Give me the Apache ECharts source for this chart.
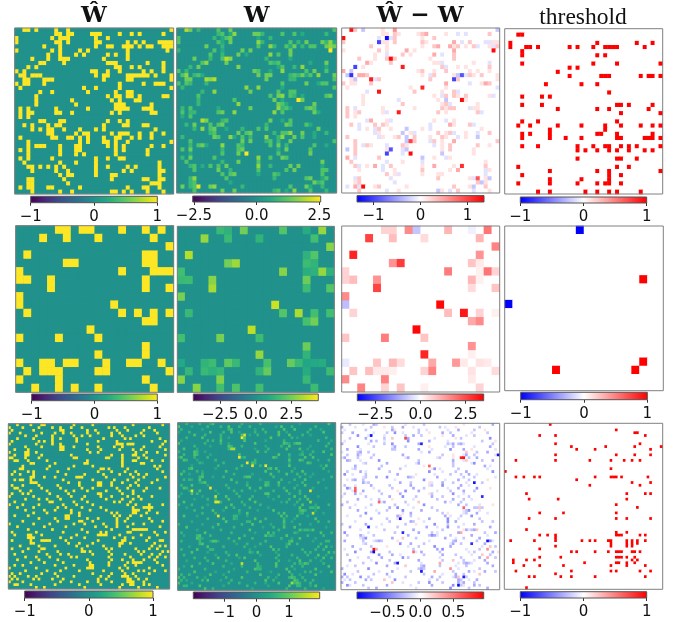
<!DOCTYPE html>
<html><head><meta charset="utf-8">
<script src="https://cdn.jsdelivr.net/npm/echarts@6/dist/echarts.min.js"></script>
<style>html,body{margin:0;padding:0;background:#fff}#c{width:673px;height:622px;filter:blur(.3px)}</style>
</head><body><div id="c"></div>
<script>
// ---- row 1 (40 x 40): columns that are switched on, per matrix row
const hatCols1=[[2,3,5,10,13,39],[10,11,13,14,19,20,21,26,29,31,37],[0,9,11,12,13,20,23],[0,10,11,13,20,21,28,30,32,36,37,38,39],[7,11,20,23,24,27,28,29,31,33,34,37,38,39],[0,9,11,16,18,28,38],[8,11,15,17,23,25,28],[4,8,11,12,13,22,28],[6,7,12,23,24,25,33,37],[3,5,25,26,29,31,37],[0,2,19,20,23,26,32,34,37],[1,2,4,5,6,20,22,23,28,29,30,31,32,33,35,39],[2,3,7,8,9,22,28,29,39],[0,2,3,7,26,32,35,36,37],[1,17,20,26,39],[6,9,18,25,28,29],[5,23,25,26,28,29,31,37,38],[5,14,24,26,30,31],[5,15,25,26,27,34],[1,3,10,18,25,26,27,28,32,33,34],[1,3,4,10,11,14,24,26,34,35],[1,3],[6,7,11,12,23,26,28],[2,4,8,10,11,22,27,28,32,33],[4,6,8,9,12,16,20,22,35],[8,9,15,17,18,24,26,27,28,31,34,37],[1,9,10,13,14,16,18,22,25,26,29,31,34],[3,16,18,22,23,25,28,39],[3,5,6,7,11,15,16,23,25,27,34,37],[1,3,11,15,16,25,27,33],[3,11,15,17,25,33],[1,3,9,20,23,26,27],[2,11,15,20,36],[3,4,6,8,10,12,20,23,28,30,36],[4,10,13,20,27,29,36,37],[11,13,14,20,24,25,36],[3,4,12,24,32,33,36,37],[3,4,13,34,35,36],[1,3,4,8,9,16,28,32,33,36],[4,11,14,24,25,27,29,33,37]];
const wLev1=["753454","34265534423","4324523","4425634355362","53463425344565","3425553","4352645","5347632","46543425","3524362","4354264542","4634255534352465","55477533","443345244","36524","36544","445643245","345245","365425","3425634245","43345364523","24","74345243","35445354425","364523445","345453446523","3546243636542","4553435","345264345342","45345254","245345","3546454","4354534","342445635524","45344544","4452434","36434524","342534","5345634523","455342643"];
const wPeaks1=[[5,38,2.7],[17,30,2.6],[30,17,2.7],[38,5,2.4],[7,12,2.0],[12,7,1.9],[12,8,1.7],[22,7,1.5],[14,20,1.7],[15,9,1.7],[20,14,1.7],[9,15,1.6]];
const diffLev1=["82b14b","11211231aa2","1a2a212","2112213a2aa11","2112331212a1a2","12131311","1a213a2","212a212","31211a1a","b12a112","3b1212111","b23321a21b1a2121","1b8a22121b","21123a1321","1121a","a2212a","11a22121a","1a1b21","1212a1","2a112122a1","2121a1212a","21","a31a1a1","2a221a312a","a1a21b1a1","a1b1a212a1a2","2a112b2121a1b1","2b2a21321a","2a21a21a1221","b21ab1212","21a2b1122","3a2b1a121","2a1a1b2","2a13a2131b2","1a1213a1b2","21a111a","a2a21a1bb2","12a2b1","a3a12121b2","2a1b1a2a1"];
const diffPeaks1=[[2,0,1.3],[2,11,-1.3],[3,9,-1.0],[7,12,1.3],[9,3,-1.0],[9,15,1.2],[11,2,-1.1],[12,7,1.2],[12,28,-1.0],[11,30,-0.9],[14,20,1.15],[15,9,1.25],[20,14,1.2],[17,30,1.3],[5,38,1.3],[27,17,1.0],[30,17,1.3],[30,11,-1.0],[29,12,-0.9],[33,30,1.1],[38,5,1.3],[36,34,0.9],[0,2,1.25]];
const thrCols1=[[],[3,4],[],[1,23,33,37],[1,5,6,8,16,18,22,25,26,27,28,35],[4],[4,23,25],[],[4,22,28,39],[16,18],[13],[16,24,25,26,34,36,37,39],[],[10,19,23],[],[26],[4,9,11],[],[4,9,28,29,31,37],[13,23,26,36],[29,39],[],[4,8,28],[3,6,13,19,25,29,34,37,39],[11,25],[4,6,11,23,24,28,37],[4,11,15,19,28,29,35,36,37,39],[],[4,8,18,22,25,26,29,31,33,39],[18,20,23,26,28,31,35,37],[],[18,28,29,33],[],[3,28,31],[11,23,26,39],[4,26,29],[11,19,26],[3,11,18,23,25,26,29],[],[8,11,20,23,26,28,34]];

// ---- row 2 (20 x 20)
const hatCols2=[[5,6,8,9,13,16,18],[3,6,10,17],[19],[1,16,17],[6,7,16,17],[0,13,17,18,19],[0,1,4,16],[4,16,19],[0],[0,12],[1,13,15,17,19],[16,17],[9],[0,5,10],[16],[10,16],[0,3,4,6,7,11,14,15,18],[1,3,4,5,10,11,19],[0,5,16],[2,5,7,10,17]];
const wCols2=[[5,6,8,13,16,18],[3,6,10,17],[19],[1,16,17],[6,7,16,17],[0,13,16,17,18,19],[0,1,4,16],[4,16,19],[0],[12],[1,13,15,17,19],[16,17],[9],[0,5,10],[16],[10,16],[0,3,4,6,7,11,14,15,16,17,18],[1,3,4,5,10,11,16,19],[0,5,16],[2,5,7,10,17]];
const wVals2=[[1.5,1.2,2.5,2,1,3],[3,1.5,1.3,1.7],[2.8],[3.4,1.2,2],[2.5,3.1,1.6,1.3],[1.7,2.8,1.1,1.2,3,1.2],[1.5,1.6,2.8,2.4],[3.2,1.6,2],[2.6],[3.7],[1.5,2,3.3,1.7,1.7],[1.8,2.5],[3.5],[1.7,2.6,1.6],[2.4],[3,1.3],[0.9,1.3,1.6,2.2,1.5,1.8,2.3,1.5,0.8,0.9,1],[1.4,1.5,1.2,1.4,1.3,2.3,1,1.6],[2.8,2.7,1.5],[2.8,1.7,1.9,1.7,1.6]];
const diffCols2=[[5,6,8,9,13,16,18],[3,6,10,17],[19],[1,17],[6,7,16,17],[0,13,17,18,19],[0,1,4,16,17],[4,16,19],[0],[0,12],[1,13,15,17,19],[16,17],[9],[0,5,10],[16],[10,16],[0,4,6,7,11,14,15,17,18],[1,3,4,5,6,10,11,16,19],[0,5,16],[2,5,7,10,17]];
const diffVals2=[[0.6,0.6,1.6,-0.8,1,-0.2,1.9],[2.6,0.9,0.5,1],[1.7],[3,1.5],[1.5,2.7,0.8,0.3],[0.6,1.8,0.2,1.9,0.6],[0.6,0.9,1.5,1,0.2],[2.6,0.5,0.8],[1.6],[-0.9,3.4],[0.6,0.9,3.2,0.6,0.2],[1.2,1.6],[3.4],[0.8,1.8,0.8],[1.5],[3,0.2],[-0.3,0.8,1,0.5,1.2,1.4,0.3,0.4,0.3],[0.8,0.9,0.3,0.3,0.2,0.6,1.7,0.4,0.5],[1.6,1.7,0.3],[1.7,0.6,0.8,0.2,0.6]];
const thrCells2=[[0,9,-1],[6,17,1],[9,0,-1],[16,17,1],[17,6,1],[17,16,1]];

// ---- row 3 (60 x 60)
const hatCols3=[[3,8,12,13,24,31,46,57],[0,5,11,16,19,23,27,37,39,43,52],[1,9,19,20,29,32,40,44,50,54],[0,4,12,17,20,23,29,33,38,41,49,55],[6,10,16,24,27,30,38,42,47,50],[3,9,16,19,25,35,43,45,56],[1,11,13,16,25,33,40,53,58],[0,10,16,19,29,40,41,42,44,45,46,57],[6,12,19,20,24,33,39,42,50,56],[2,7,19,20,29,34,41,46,49,58],[0,6,7,10,30,33,47,51,55],[2,6,7,12,23,38,42,46,47,50,58],[0,1,6,11,24,25,36,37,42,48,51],[2,3,7,14,29,42,46,47,53,57],[8,9,17,28,29,42,49,50],[5,15,24,31,42,54,56],[4,5,14,22,34,35,37,44,55],[2,7,9,18,33,38,43,47,57],[1,4,9,21,28,35,41,45,48,51],[8,9,13,17,25,26,27,36,46,50,58],[2,4,5,8,20,31,39,44,48,55],[8,9,10,22,26,33,34,38,42,47,53],[1,5,11,18,26,33,34,38,45,48],[2,3,12,19,27,31,40,44,51,56],[4,8,14,21,24,29,36,41,46,50],[1,5,7,15,22,33,34,42,46],[0,9,18,23,28,34,38,44,48,53],[6,11,14,19,27,36,42,46,49],[2,15,16,24,29,39,41,45],[0,5,11,20,25,31,44,47,52,57],[3,9,18,21,27,34,46,50,51,52,53],[6,13,17,23,30,36,46,47,48,52],[9,14,23,26,38,40,46,47,51,55],[2,7,21,22,26,39,41,45,49],[11,17,21,22,29,33,40,44,52],[5,18,26,27,31,40,43,53,57],[0,9,15,24,28,35,40,46,50],[3,13,21,32,36,40,44,56],[7,16,27,38,46,47,48,49,50,51],[1,10,20,29,34,36,44,45,54,58],[2,7,8,12,25,33,34,35,36,41,49,55],[7,8,9,19,23,28,39,43,46,52],[1,8,12,13,14,15,21,33,42,43,51,56,57],[8,9,22,26,31,41,42,45,54],[4,11,17,25,29,35,41,53,56,58],[1,7,12,13,27,36,38,47,52,55],[5,11,18,27,28,30,37,48,50,57,59],[2,14,19,22,31,38,43,49,53,56],[6,10,15,23,25,37,45,52,55,58],[3,11,18,29,38,42,46,50,54],[8,13,20,30,37,44,46,47,48,49,55],[2,5,17,24,30,31,37,43,47,57],[0,10,21,29,30,31,41,44,52],[6,14,19,26,35,42,48,50,54,58],[1,4,12,17,31,38,43,46,52],[0,2,7,10,18,24,34,37,42,43,44,47],[1,3,9,11,16,20,33,36,44,45,48,51],[0,5,19,23,29,33,38,44,45,46,50],[2,3,8,17,26,34,42,45,46,50,52],[10,13,28,41,48,55]];
const wLev3=["332433243343","423343324334233","3234234432433243","2343423342343234","43342344324433","343244323443244","2334423324434","4332443234434332423","3243323423344332","42332344234423","343243234323443","3432443233443243","2433234324433","432334432324432","3234324334423","234342433324","34233442324334332","3324433423432","423324433234","34233443323344234","3324423342333423","234323342334423","342334332433244","432344332243","242332343242","243234433422","324332344233323","233442334233","423342332443","3324332423342","234332433244","342324343233","33243423324","42332434232","343243324332","2433442332","32434233224","4332344233","23434233243","3432433243","23433423243","4323433242","332442333423","342332433234","243324334233","3433243","423324233433","3234233342","33424332433","23343243233","34234332433","24333243342","33243342432","42332433243","3342433243","4332343234","32342343433","42333243433","33423243324","43233243342"];
const wPeaks3=[[5,24,1.9],[4,25,1.7],[12,23,1.9],[14,26,1.9],[15,28,1.9],[15,33,1.9],[23,12,1.9],[24,5,1.8],[26,14,1.6],[28,14,1.8],[28,15,1.8],[33,15,1.8],[24,50,1.8],[32,51,1.6],[50,24,1.6],[9,20,1.4],[9,21,1.4],[28,50,1.3],[57,43,1.4]];
const diffLev3=["bacbab1cabdb","cab1bcaba1bdacb","abc1baacb1abcb2a","bcabdab1cbabcb1c","daabcb1cabdbac","bcb2ca1bdabcabc","acbadcab1bcba","cabdcbacbcabdacb1ac","dbacb1abacbadbc","cabbcadc1abcba","abcbac2bcbabcda","bcabcb1acbadb4cb","acbbacab1bcd","cbadbca2bcbacab","abcacbadcabb1ca","cba1bcabcdb","abcb1dabacbcbadba","bcabdabcdab3bc","dabc1abbcabdab","abcdcbacbbaca2bcb","abcbadacb1bcda1bc","cabcb1acbabcbdab1c","bacbcabdcabcbd1ac","dbabcbacd1bcabca","acb1dcabcbacd","bcabc1bdabcbabcbc","abcdbcbabc2abcbacba","cab1abcbadcab","bacb2cabdbc3abcb","cabbadcba1bcabcb","bacdabcbb2bcbabac1","cabdcbabdacbbcab","dbacb1abcab1cbab","abc2bcabdab1bcbac","cbab1cdabcb2cabdb","abcbadcbb3ab","bcab1dbacb2cabd","cabcadbcb2abbcabc","abcb1cabc2bdacbbacb","dabcbac3bcabcba","bcabcbdcabcacba1bcbba","abdc2bcabc1abcdb","cbabcb1abcbdacbabcbb","abdcbacbc2abdabcba","cb1abdca2bcacabc","abc3bcdab4bcbab","dcb5acbabc1bacb3ac","bdcabcba2bcab1ba2a","abcdbabc3bacbdb3","cabcb2bacdcb1ab","bdca3abcbacabcbabcb","abc2bcbabcdab3bcba","cdabcb4abcbac3ba","bacb3bcacbda2cbab","dabcbacb2acba","cbdbabcbac2bcabdbc","abcb2dabcbacbabdc","cb2abdbcacbdab3b","dabcacdbacbabcbdb","bcadbcbacbcabd"];
const diffPeaks3=[[12,45,0.85],[12,46,0.9],[45,12,0.9],[46,12,-0.95],[50,21,-0.9],[28,14,0.6],[24,5,0.65],[5,24,0.7],[15,33,0.6],[30,46,0.6],[42,55,-0.9],[21,50,-0.9],[11,59,-0.9],[53,30,-0.9],[26,53,-0.8],[34,22,-0.9],[7,30,-0.85],[4,11,-0.9],[58,44,-0.9],[55,46,-0.85],[37,10,-0.85],[39,23,-0.8],[43,49,-0.8],[23,5,0.6]];
const thrCols3=[[17],[],[42],[49,50],[13,19,53],[],[],[19,51],[25,38,49,59],[27,34,55],[],[19,42,49,55],[],[4,19,32,40,45,48,51],[],[],[40],[0],[],[4,7,11,13,34,40,41,42,44,54],[27],[48,55],[32,51],[],[],[8,46,53,55],[],[9,20,46],[],[42],[50],[],[13,22,42],[],[9,19,42,46,55],[],[],[],[8],[42,46],[13,16,19,42,43,44,51,53],[19],[2,11,19,29,32,34,39,40,46,48,50,53],[40,46,48,50],[19,40,46,48],[13],[25,27,34,39,42,43,44,48,49,51],[],[13,21,42,43,44,46,49],[3,8,11,48,50],[3,30,42,43,46,49],[7,13,22,40,46,53],[],[4,25,40,42,51,55],[19],[9,11,21,25,34,53],[],[],[],[8]];

// ---- colour-bar ranges and tick labels
const barRange=[[1,2.55,1.35,1],[1,4.38,3.5,1],[1,1.94,0.96,1]];
const barTicks=[[[-1,0,1],[-2.5,0,2.5],[-1,0,1],[-1,0,1]],[[-1,0,1],[-2.5,0,2.5],[-2.5,0,2.5],[-1,0,1]],[[-1,0,1],[-1,0,1],[-0.5,0,0.5],[-1,0,1]]];
const tickDigits=[[0,1,0,0],[0,1,1,0],[0,0,1,0]];
const titles=["Ŵ","W","Ŵ − W","threshold"];

// layout [left, right, top, bottom] in page pixels
const panelBox=[[[14.7,173.7,28,194],[176.7,336.7,28,193],[341.7,499.7,28,193],[504.7,662.7,28.7,194]],
[[15.7,173.7,225.7,392.3],[177.3,334.3,226.3,392.3],[341.7,499.7,226,392],[504.7,663.3,226,390.7]],
[[8.3,169.7,423.7,589],[177.7,335.7,422.7,590.3],[341,499.7,423.3,589.7],[504.3,662.7,423.3,589.3]]];
const barBox=[[[30.7,157.3,196.3,202.7],[192.7,320.7,196,202],[357,484,195.6,202],[520.3,646.7,197,203]],
[[31.7,157.3,394,400.7],[193.3,318.3,394,400.7],[357.3,483.7,394,400.7],[520.7,647.3,392.3,399.7]],
[[24.7,153,591,598],[193.3,319.7,592,598.7],[357,483.7,592,598.7],[520.3,646.7,591.7,598]]];
const viridis=['#440154','#482475','#414487','#355f8d','#2a788e','#21918c','#22a884','#44bf70','#7ad151','#bddf26','#fde725'];
const bwr=['#0000ff','#ffffff','#ff0000'];

function charVal(ch,step){ if(ch>='0'&&ch<='9') return +ch*step; return -(ch.charCodeAt(0)-96)*step; }
function matrix(n,cols,vals,step,fb,peaks){
  const m=[]; for(let r=0;r<n;r++){m.push(new Array(n).fill(0));
    (cols[r]||[]).forEach((c,i)=>{
      let v;
      if(vals===null) v=1;
      else if(typeof vals[r]==='string'){ v=charVal(vals[r][i]||fb,step); }
      else v=vals[r][i];
      m[r][c]=v;
    });}
  (peaks||[]).forEach(p=>{m[p[0]][p[1]]=p[2];});
  return m;
}
const sizes=[40,20,60];
const mats=[
 [matrix(40,hatCols1,null),matrix(40,hatCols1,wLev1,2.55/9,'4',wPeaks1),matrix(40,hatCols1,diffLev1,1.35/9,'1',diffPeaks1),matrix(40,thrCols1,null)],
 [matrix(20,hatCols2,null),matrix(20,wCols2,wVals2),matrix(20,diffCols2,diffVals2),matrix(20,[],null,0,'',thrCells2)],
 [matrix(60,hatCols3,null),matrix(60,hatCols3,wLev3,1.94/9,'3',wPeaks3),matrix(60,hatCols3,diffLev3,0.96/9,'b',diffPeaks3),matrix(60,thrCols3,null)]
];
const W=673,H=622;
const grid=[],xAxis=[],yAxis=[],series=[],visualMap=[],backdrops=[];
const FONT='DejaVu Sans';
function gridOf(b,border){return {left:b[0],width:b[1]-b[0],top:b[2],height:b[3]-b[2],show:true,z:10,backgroundColor:'transparent',borderColor:border,borderWidth:1,containLabel:false};}
for(let row=0;row<3;row++)for(let col=0;col<4;col++){
  const n=sizes[row],m=mats[row][col],b=panelBox[row][col];
  const idx=[...Array(n).keys()];
  const gi=grid.length;
  grid.push(gridOf(b,'#808080'));
  backdrops.push({type:'rect',silent:true,z:0,shape:{x:b[0],y:b[2],width:b[1]-b[0],height:b[3]-b[2]},style:{fill:col<2?viridis[5]:'#ffffff'}});
  xAxis.push({type:'category',gridIndex:gi,data:idx,show:false});
  yAxis.push({type:'category',gridIndex:gi,data:idx,inverse:true,show:false});
  const d=[];for(let r=0;r<n;r++)for(let c=0;c<n;c++)d.push([c,r,m[r][c]]);
  const sIdx=series.length;
  series.push({type:'heatmap',xAxisIndex:gi,yAxisIndex:gi,data:d,silent:true,progressive:0,animation:false,itemStyle:{borderWidth:0}});
  const v=barRange[row][col],cm=(col<2)?viridis:bwr;
  visualMap.push({type:'continuous',show:false,min:-v,max:v,seriesIndex:sIdx,dimension:2,inRange:{color:cm}});
}
for(let row=0;row<3;row++)for(let col=0;col<4;col++){
  const v=barRange[row][col],cm=(col<2)?viridis:bwr,t=barTicks[row][col],dg=tickDigits[row][col];
  const gi=grid.length;
  grid.push(gridOf(barBox[row][col],'#555555'));
  xAxis.push({type:'value',gridIndex:gi,min:-v,max:v,splitLine:{show:false},axisLine:{show:false},
    axisTick:{show:true,length:3,lineStyle:{color:'#333',width:1},customValues:t},
    axisLabel:{show:true,fontFamily:FONT,fontSize:15,color:'#111',margin:7,customValues:t,
      formatter:x=>(x<0?'\u2212':'')+Math.abs(x).toFixed(dg)}});
  yAxis.push({type:'value',gridIndex:gi,min:0,max:1,show:false});
  const stops=cm.map((c,i)=>({offset:i/(cm.length-1),color:c}));
  series.push({type:'custom',xAxisIndex:gi,yAxisIndex:gi,silent:true,animation:false,clip:false,data:[[-v,0,v,1]],
    encode:{x:[0,2],y:[1,3]},
    renderItem:(p,api)=>{const a=api.coord([api.value(0),api.value(1)]),b=api.coord([api.value(2),api.value(3)]);
      return {type:'rect',shape:{x:a[0],y:b[1],width:b[0]-a[0],height:a[1]-b[1]},
        style:{fill:new echarts.graphic.LinearGradient(0,0,1,0,stops)}};}});
}
const titleCx=[94,256.7,420,583];
const title=titles.map((t,i)=>({text:t,left:titleCx[i],top:i===3?6:5,padding:0,textAlign:'center',
  textStyle:i===3?{fontFamily:'Liberation Serif',fontWeight:'normal',fontSize:23.5,color:'#111'}:
  {fontFamily:'DejaVu Serif',fontWeight:'bold',fontSize:23,color:'#111'}}));
const chart=echarts.init(document.getElementById('c'),null,{width:W,height:H,renderer:'canvas'});
chart.setOption({animation:false,backgroundColor:'#fff',title,grid,xAxis,yAxis,visualMap,series,graphic:backdrops});
</script></body></html>
